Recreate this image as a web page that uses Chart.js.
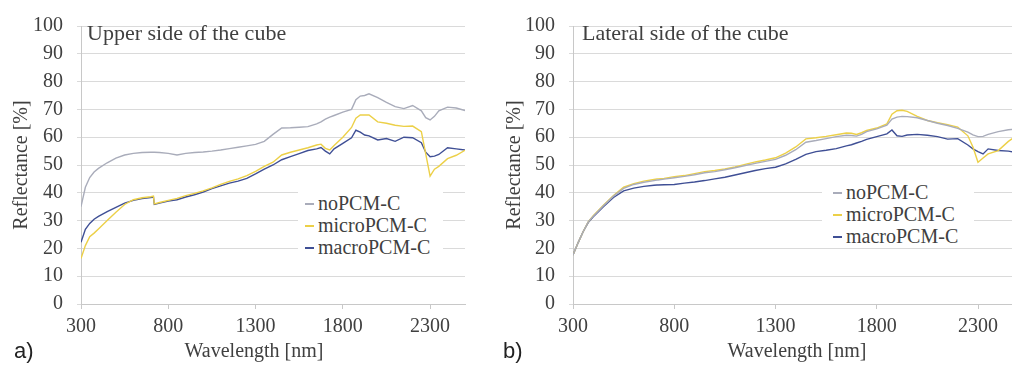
<!DOCTYPE html>
<html>
<head>
<meta charset="utf-8">
<script src="https://cdn.jsdelivr.net/npm/chart.js@4/dist/chart.umd.min.js"></script>
<style>
  html, body { margin: 0; padding: 0; background: #fff; }
  body { width: 1012px; height: 366px; overflow: hidden; position: relative; font-family: "Liberation Serif", serif; }
  .panel { position: absolute; top: 0; height: 366px; }
  .label { position: absolute; font-family: "Liberation Sans", sans-serif; font-size: 22px; color: #222; line-height: 26px; }
  .ptitle { position: absolute; font-size: 22px; color: #404040; line-height: 26px; white-space: nowrap; }
  .xtitle { position: absolute; width: 200px; text-align: center; font-size: 20px; color: #404040; line-height: 24px; }
  .legend { position: absolute; background: #fff; font-size: 20px; color: #404040; }
  .legend div { height: 22px; line-height: 22px; white-space: nowrap; }
  .legend span { display: inline-block; width: 9px; height: 2px; vertical-align: middle; margin-right: 4px; position: relative; top: -1px; }
</style>
</head>
<body>
<div class="panel" style="left:0;width:500px"><canvas id="upperChart" width="500" height="366"></canvas></div>
<div class="panel" style="left:500px;width:530px"><canvas id="lateralChart" width="530" height="366"></canvas></div>

<div class="ptitle" style="left:87px;top:20px">Upper side of the cube</div>
<div class="ptitle" style="left:582px;top:20px">Lateral side of the cube</div>
<div class="legend" id="legendUpper" style="left:298px;top:192px;width:138px;padding-left:7px"></div>
<div class="legend" id="legendLateral" style="left:822px;top:181px;width:141px;padding-left:11px"></div>
<div class="xtitle" style="left:154px;top:338px">Wavelength [nm]</div>
<div class="xtitle" style="left:697px;top:338px">Wavelength [nm]</div>
<div class="label" style="left:14px;top:338px">a)</div>
<div class="label" style="left:503px;top:338px">b)</div>

<script>
// wavelengths in nm (shared by all series)
const wavelength = [300,325,350,375,400,450,500,550,600,650,700,715,720,750,800,850,900,950,1000,1050,
  1100,1150,1200,1250,1300,1350,1400,1450,1500,1550,1600,1650,1675,1700,1725,1750,1800,1850,1875,1900,
  1925,1950,2000,2050,2100,2150,2200,2250,2275,2300,2325,2350,2400,2450,2500];

// a) upper side of the cube, reflectance [%]
const upperNo = [35,42,45.5,47.5,48.8,50.8,52.5,53.6,54.2,54.5,54.6,54.6,54.6,54.5,54.2,53.6,54.2,54.5,54.7,55,
  55.4,55.9,56.4,56.9,57.4,58.5,61,63.3,63.4,63.6,63.8,64.8,65.5,66.5,67.2,67.8,69,70,73.5,74.8,
  75,75.6,74.2,72.5,71,70.3,71.4,69.5,67,66.2,67.5,69.5,70.8,70.5,69.6];
const upperMicro = [16.4,21,24.2,25.5,27,30,33,35.8,37.5,38.2,38.6,38.8,36,36.5,37.3,38,39,39.8,40.7,41.8,
  43,44.1,45,46.2,47.7,49.5,51,53.6,54.6,55.4,56.2,57.2,57.5,56,55.4,57,60,63.5,66.8,68,
  68,68,65.5,65,64.3,63.9,64,62,54,46,48.5,49.5,52.3,53.5,55.3];
const upperMacro = [22.2,26.9,29,30.5,31.5,33.2,34.8,36.3,37.3,37.9,38.3,38.5,35.8,36.3,37,37.5,38.5,39.3,40.3,41.5,
  42.5,43.5,44.2,45.2,46.8,48.5,50,51.9,53,54.1,55.2,55.8,56.3,55,54,55.8,57.8,59.8,62.5,61.8,
  60.8,60.5,59,59.5,58.5,60,59.8,58,54.6,53,53.2,53.8,56.2,55.8,55.4];

// b) lateral side of the cube, reflectance [%]
const lateralNo = [17.6,22,26,29.5,31.6,35.3,38.8,41.6,43,43.8,44.4,44.6,44.6,44.9,45.4,45.9,46.5,47.2,47.6,48.3,
  49,49.8,50.6,51.3,52,53.5,55.5,58.2,58.8,59.5,60.2,60.7,60.6,60.4,61,62,63,64.3,66.5,67.2,
  67.5,67.4,67,66,65,64.2,63.2,61.8,60.8,60.2,60.3,61,62,62.7,63];
const lateralMicro = [17.6,22,26,29.5,31.8,35.5,39,42,43.3,44.2,44.8,45,45,45.2,45.8,46.2,46.9,47.6,48,48.6,
  49.3,50.2,51.1,51.8,52.6,54.3,56.5,59.4,59.8,60.3,60.9,61.5,61.4,61,61.6,62.4,63.3,64.8,68.3,69.5,
  69.7,69.3,67.5,66,65.2,64.5,63.6,60.5,56.5,51,52.5,54,55.2,58.5,61];
const lateralMacro = [17.6,22,26,29.3,31.4,35,38.3,40.7,41.7,42.3,42.7,42.8,42.8,42.9,43,43.5,43.9,44.4,45,45.6,
  46.4,47.2,48,48.7,49.2,50.4,52,53.8,54.8,55.3,55.9,56.9,57.3,57.9,58.5,59.2,60.2,61.2,62.6,60.5,
  60.3,60.8,61,60.7,60.2,59.3,59.5,57.2,55.8,54.8,54,55.8,55.2,55,54.3];

const xTickValues = [300, 800, 1300, 1800, 2300];
const seriesNames = ['noPCM-C', 'microPCM-C', 'macroPCM-C'];
const seriesColors = ['#a9acba', '#ecd048', '#3f4f95'];

const textColor = '#404040';
Chart.defaults.font.family = 'Liberation Serif';
const tickFont = { family: 'Liberation Serif', size: 20 };

function toPoints(values) {
  return wavelength.map((w, i) => ({ x: w, y: values[i] }));
}

function makeChart(canvasId, series, box) {
  const ctx = document.getElementById(canvasId).getContext('2d');
  return new Chart(ctx, {
    type: 'line',
    data: {
      datasets: series.map((vals, i) => ({
        label: seriesNames[i],
        data: toPoints(vals),
        borderColor: seriesColors[i],
        borderWidth: 1.4,
        pointRadius: 0,
        tension: 0,
        fill: false
      }))
    },
    options: {
      responsive: false,
      animation: false,
      devicePixelRatio: 1,
      layout: { padding: { left: box.padLeft, right: box.padRight, top: 16, bottom: 0 } },
      plugins: { legend: { display: false }, tooltip: { enabled: false } },
      scales: {
        x: {
          type: 'linear',
          min: 300,
          max: 2500,
          afterBuildTicks: s => { s.ticks = xTickValues.map(v => ({ value: v })); },
          afterFit: s => { s.height = 62; },
          ticks: { color: textColor, font: tickFont, padding: 6, maxRotation: 0, callback: v => String(v) },
          grid: { drawOnChartArea: false, tickLength: 5, color: '#c8c8c8' },
          border: { color: '#c8c8c8' }
        },
        y: {
          min: 0,
          max: 100,
          afterFit: s => { s.width = box.yWidth; },
          ticks: { stepSize: 10, color: textColor, font: tickFont, padding: 14, callback: v => String(v) },
          grid: { color: '#dadada', tickLength: 4 },
          border: { color: '#c8c8c8' },
          title: { display: true, text: 'Reflectance [%]', color: textColor, font: tickFont, padding: { top: box.titlePad, bottom: 0 } }
        }
      }
    }
  });
}

makeChart('upperChart', [upperNo, upperMicro, upperMacro], { padLeft: 6, padRight: 35, yWidth: 75, titlePad: 4 });
makeChart('lateralChart', [lateralNo, lateralMicro, lateralMacro], { padLeft: 0, padRight: 11.5, yWidth: 73, titlePad: 3 });

// HTML legends placed inside the plot areas
function fillLegend(id) {
  const el = document.getElementById(id);
  seriesNames.forEach((name, i) => {
    const row = document.createElement('div');
    const mark = document.createElement('span');
    mark.style.background = seriesColors[i];
    row.appendChild(mark);
    row.appendChild(document.createTextNode(name));
    el.appendChild(row);
  });
}
fillLegend('legendUpper');
fillLegend('legendLateral');
</script>
</body>
</html>
